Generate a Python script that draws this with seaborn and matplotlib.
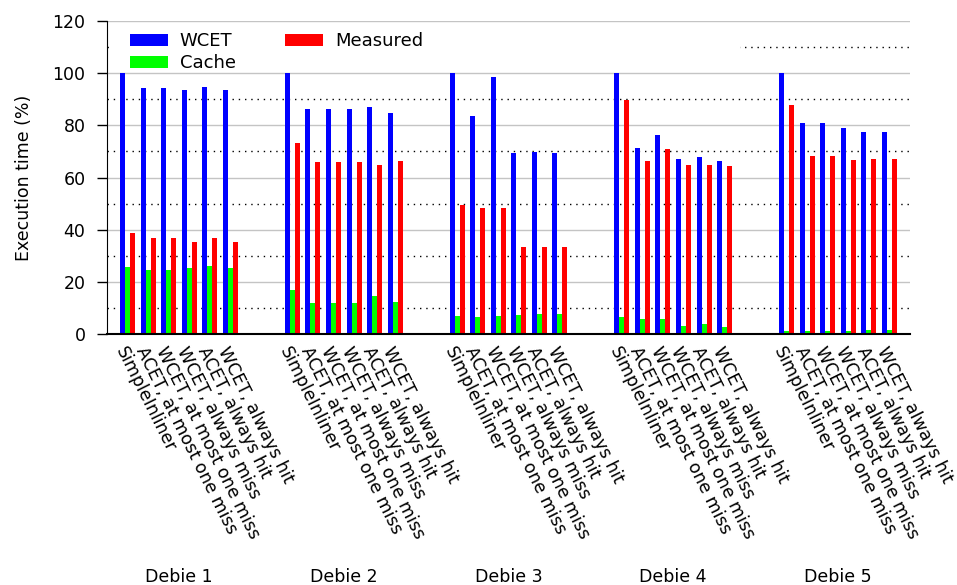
import matplotlib
matplotlib.use("Agg")
import matplotlib.pyplot as plt
import matplotlib.patches as mpatches
import matplotlib.transforms as mtransforms
import pandas as pd
import seaborn as sns

# benchmark groups and configurations (one bar triplet per configuration)
groups = ["Debie 1", "Debie 2", "Debie 3", "Debie 4", "Debie 5"]
configs = ["SimpleInliner", "ACET, at most one miss", "WCET, at most one miss",
           "WCET, always miss", "ACET, always hit", "WCET, always hit"]
metrics = ["WCET", "Cache", "Measured"]

wcet = [
    [100, 94.3, 94.3, 93.5, 94.7, 93.5],
    [100, 86.3, 86.3, 86.3, 87.0, 84.7],
    [100, 83.6, 98.5, 69.4, 69.8, 69.4],
    [100, 71.3, 76.3, 67.1, 67.9, 66.3],
    [100, 80.9, 80.9, 79.0, 77.4, 77.4],
]
cache = [
    [25.7, 24.5, 24.5, 25.3, 26.1, 25.3],
    [16.9, 11.9, 11.9, 11.9, 14.6, 12.3],
    [6.9, 6.5, 6.9, 7.3, 7.7, 7.7],
    [6.5, 5.8, 5.8, 3.1, 3.8, 2.7],
    [1.2, 1.2, 1.2, 1.2, 1.5, 1.5],
]
measured = [
    [38.7, 36.8, 36.8, 35.3, 36.8, 35.3],
    [73.2, 65.9, 65.9, 65.9, 64.8, 66.3],
    [49.5, 48.3, 48.3, 33.4, 33.4, 33.4],
    [89.7, 66.3, 70.9, 64.8, 64.8, 64.4],
    [87.8, 68.2, 68.2, 66.7, 67.1, 67.1],
]

slots = len(configs) + 2
rows = []
for g in range(len(groups)):
    for s in range(len(configs)):
        pos = g * slots + s
        for m, vals in zip(metrics, [wcet, cache, measured]):
            rows.append({"pos": pos, "metric": m, "value": vals[g][s]})
df = pd.DataFrame(rows)

fig = plt.figure(figsize=(9.57, 5.85), dpi=100)
ax = fig.add_axes([0.1118, 0.429, 0.8391, 0.535])

sns.barplot(data=df, x="pos", y="value", hue="metric", hue_order=metrics,
            palette=["#0000ff", "#00ff00", "#ff0000"], native_scale=True,
            width=0.73, saturation=1, errorbar=None, linewidth=0, ax=ax)

ax.set_xlim(-1, 38)
ax.set_ylim(0, 120)
ax.set_yticks(range(0, 121, 20))
ax.set_yticks(range(10, 120, 20), minor=True)
ax.grid(which="major", axis="y", color="#c4c4c4", lw=1.0)
ax.grid(which="minor", axis="y", color="black", lw=1.0, linestyle=(0, (1, 3.5)))
ax.set_axisbelow(True)
ax.tick_params(axis="y", which="major", length=7, width=1, labelsize=12.5,
               direction="out", pad=8.5)
ax.tick_params(axis="y", which="minor", length=0)
for sp in ["top", "right"]:
    ax.spines[sp].set_visible(False)
ax.spines["left"].set_color("black")
ax.spines["bottom"].set_color("black")
ax.spines["bottom"].set_linewidth(1.5)
ax.set_ylabel("Execution time (%)", fontsize=12.5, labelpad=14)
ax.set_xlabel("")

ticks = [g * slots + s for g in range(len(groups)) for s in range(len(configs))]
ax.set_xticks(ticks)
ax.set_xticklabels(configs * len(groups), rotation=-63.5, ha="left", va="top",
                   rotation_mode="anchor", fontsize=12.5)
ax.tick_params(axis="x", length=0, pad=7)

trans = mtransforms.blended_transform_factory(ax.transData, ax.transAxes)
for g, name in enumerate(groups):
    ax.text(g * slots + 2.5, -0.776, name, transform=trans, ha="center",
            va="center", fontsize=12.5)

# white box behind the legend (hides the dotted line there)
ax.add_patch(mpatches.Rectangle((0.007, 0.87), 0.781, 0.125, transform=ax.transAxes,
                                facecolor="white", edgecolor="none", zorder=2.5))

handles, labels = ax.get_legend_handles_labels()
ax.legend(handles, labels, ncol=2, loc="upper left", bbox_to_anchor=(0.0286, 0.964),
          frameon=False, fontsize=13, borderaxespad=0, borderpad=0,
          handlelength=2.1, handleheight=0.65, handletextpad=0.66,
          labelspacing=0.2, columnspacing=2.73)

fig.savefig("out.png", dpi=100)
